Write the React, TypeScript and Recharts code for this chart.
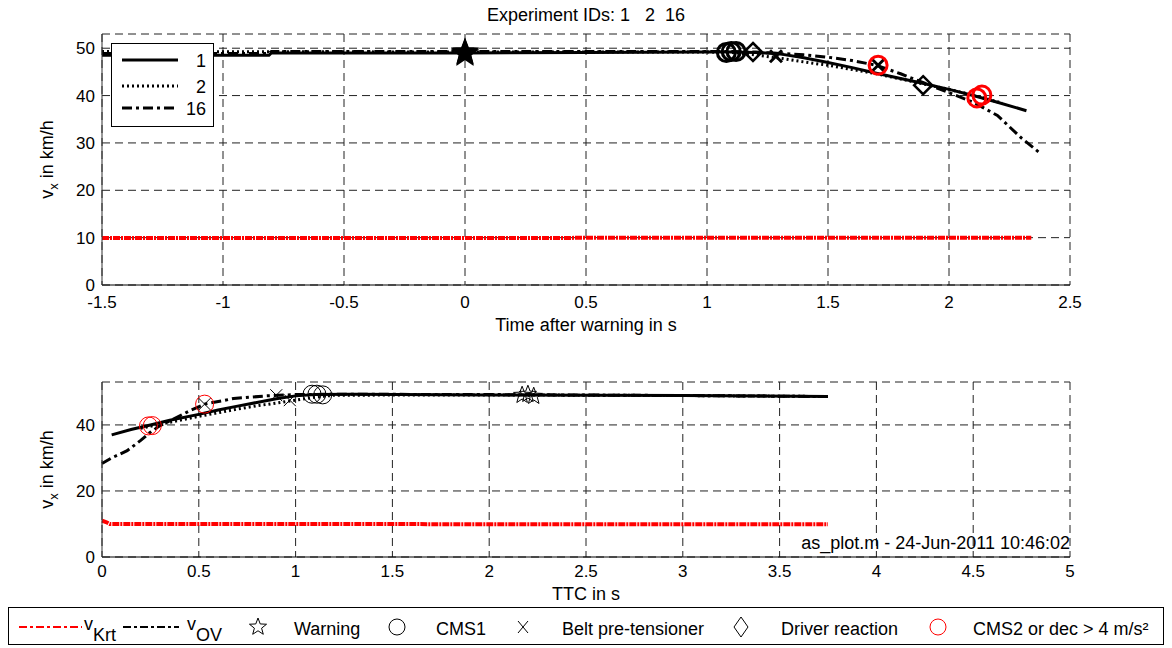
import React from "react";
import { CartesianGrid, ComposedChart, Line, Scatter, XAxis, YAxis } from "recharts";

// top panel: speed over time after warning
const topT1 = [-1.5, -0.81, -0.8, 0, 0.5, 1.0, 1.1, 1.2, 1.3, 1.4, 1.5, 1.6, 1.7, 1.8, 1.9, 2.0, 2.1, 2.2, 2.32];
const topV1 = [48.5, 48.5, 49.0, 49.0, 49.1, 49.2, 49.2, 49.1, 48.8, 48.0, 47.0, 45.9, 44.7, 43.6, 42.5, 41.3, 40.0, 38.6, 36.8];
const topT2 = [-1.5, 0, 0.5, 1.0, 1.1, 1.2, 1.3, 1.4, 1.5, 1.6, 1.7, 1.8, 1.9, 2.0, 2.1, 2.22];
const topV2 = [49.3, 49.2, 49.2, 49.2, 49.1, 48.6, 47.9, 47.1, 46.4, 45.5, 44.6, 43.5, 42.4, 41.3, 40.1, 38.4];
const topT16 = [-1.5, -0.81, -0.8, 0, 0.5, 1.0, 1.1, 1.2, 1.3, 1.4, 1.5, 1.6, 1.7, 1.8, 1.9, 2.0, 2.1, 2.2, 2.3, 2.37];
const topV16 = [48.9, 48.9, 49.3, 49.3, 49.3, 49.3, 49.3, 49.2, 48.9, 48.6, 48.1, 47.4, 46.4, 44.6, 42.6, 40.6, 38.6, 35.8, 31.0, 28.1];
const topKrtT = [-1.5, 2.34];
const topKrtV = [9.9, 10.0];

const topWarnT = [0, 0, 0];
const topWarnV = [49.0, 49.2, 48.8];
const topCms1T = [1.08, 1.1, 1.12];
const topCms1V = [49.1, 49.3, 49.3];
const topBeltT = [1.285, 1.707];
const topBeltV = [48.3, 46.4];
const topDrvT = [1.19, 1.893];
const topDrvV = [49.2, 42.2];
const topCms2T = [1.707, 2.115, 2.136];
const topCms2V = [46.4, 39.5, 40.1];

// bottom panel: speed over TTC
const botT1 = [0.05, 0.15, 0.25, 0.35, 0.5, 0.6, 0.7, 0.8, 0.9, 1.0, 1.1, 1.3, 2.0, 3.0, 3.75];
const botV1 = [37.0, 38.6, 40.0, 41.4, 43.2, 44.5, 45.7, 46.8, 47.9, 48.8, 49.2, 49.3, 49.1, 48.9, 48.6];
const botT2 = [0.2, 0.3, 0.4, 0.5, 0.6, 0.7, 0.8, 0.9, 1.0, 1.1, 1.2, 2.0, 3.0, 3.75];
const botV2 = [39.0, 40.2, 41.4, 42.6, 43.7, 44.8, 45.8, 46.6, 47.5, 48.4, 49.0, 49.1, 48.9, 48.6];
const botT16 = [0, 0.05, 0.13, 0.2, 0.25, 0.3, 0.36, 0.45, 0.53, 0.68, 0.85, 1.0, 1.2, 2.0, 3.0, 3.75];
const botV16 = [28.3, 30.0, 32.2, 35.3, 37.8, 39.8, 41.5, 44.2, 46.3, 48.0, 48.8, 49.2, 49.3, 49.2, 48.9, 48.6];
const botKrtT = [0, 0.02, 0.04, 3.75];
const botKrtV = [11.0, 10.6, 10.0, 9.9];

const botWarnT = [2.17, 2.2, 2.23];
const botWarnV = [49.0, 49.3, 48.7];
const botCms1T = [1.085, 1.11, 1.14];
const botCms1V = [49.3, 49.3, 49.1];
const botBeltT = [0.53, 0.9, 0.97];
const botBeltV = [46.3, 49.0, 47.5];
const botCms2T = [0.24, 0.26, 0.53];
const botCms2V = [39.7, 39.8, 46.3];

const topXTicks = [-1.5, -1, -0.5, 0, 0.5, 1, 1.5, 2, 2.5];
const topYTicks = [0, 10, 20, 30, 40, 50];
const botXTicks = [0, 0.5, 1, 1.5, 2, 2.5, 3, 3.5, 4, 4.5, 5];
const botYTicks = [0, 20, 40];

const FONT = '"Liberation Sans", Arial, sans-serif';
const FS = 18;
const TICK_FS = 17;
const DOT = "2 3";
const DASHDOT = "10 4 3 4";
const RED = "#ff0000";

const zip = (xs: number[], ys: number[]) => xs.map((x, i) => ({ x, y: ys[i] }));

function starPoints(cx: number, cy: number, r: number) {
  const pts: string[] = [];
  for (let i = 0; i < 10; i++) {
    const rad = i % 2 === 0 ? r : r * 0.42;
    const a = -Math.PI / 2 + (i * Math.PI) / 5;
    pts.push(`${cx + rad * Math.cos(a)},${cy + rad * Math.sin(a)}`);
  }
  return pts.join(" ");
}

const star = (r: number, fill: string, sw: number) => (p: any) =>
  <polygon points={starPoints(p.cx, p.cy, r)} fill={fill} stroke="#000" strokeWidth={sw} />;
const ring = (r: number, color: string, sw: number) => (p: any) =>
  <circle cx={p.cx} cy={p.cy} r={r} fill="none" stroke={color} strokeWidth={sw} />;
const cross = (s: number, sw: number) => (p: any) => (
  <path d={`M${p.cx - s},${p.cy - s}L${p.cx + s},${p.cy + s}M${p.cx - s},${p.cy + s}L${p.cx + s},${p.cy - s}`} stroke="#000" strokeWidth={sw} />
);
const diamond = (s: number, sw: number) => (p: any) => (
  <path d={`M${p.cx},${p.cy - s}L${p.cx + s},${p.cy}L${p.cx},${p.cy + s}L${p.cx - s},${p.cy}Z`} fill="none" stroke="#000" strokeWidth={sw} />
);

const VxLabel = (props: any) => {
  const vb = props.viewBox;
  const cy = vb.y + vb.height / 2;
  return (
    <text transform={`translate(53,${cy}) rotate(-90)`} textAnchor="middle" fontSize={FS} fontFamily={FONT} fill="#000">
      v<tspan fontSize={13} dy={5}>x</tspan><tspan dy={-5}> in km/h</tspan>
    </text>
  );
};

const xLabel = (text: string, dy: number) => (props: any) => {
  const vb = props.viewBox;
  return (
    <text x={vb.x + vb.width / 2} y={vb.y + dy} textAnchor="middle" fontSize={FS} fontFamily={FONT} fill="#000">
      {text}
    </text>
  );
};

const tickStyle = { fontSize: TICK_FS, fill: "#000", fontFamily: FONT };

function TopChart() {
  return (
    <ComposedChart width={1172} height={340} margin={{ top: 34, right: 102, bottom: 25, left: 52 }}>
      <CartesianGrid stroke="#222" strokeDasharray="8 5" />
      <XAxis type="number" dataKey="x" domain={[-1.5, 2.5]} ticks={topXTicks} height={30} tickLine={false} tickSize={0} tickMargin={11}
        tick={tickStyle} stroke="#000" label={{ content: xLabel("Time after warning in s", 46) }} />
      <YAxis type="number" dataKey="y" domain={[0, 53]} ticks={topYTicks} width={50} tickLine={false} tickSize={0} tickMargin={7}
        tick={tickStyle} stroke="#333" label={{ content: VxLabel }} />
      <Line data={zip(topKrtT, topKrtV)} dataKey="y" stroke={RED} strokeWidth={4} strokeDasharray="7 1 2 1" dot={false} activeDot={false} isAnimationActive={false} />
      <Line data={zip(topT16, topV16)} dataKey="y" stroke="#000" strokeWidth={3} strokeDasharray={DASHDOT} dot={false} activeDot={false} isAnimationActive={false} />
      <Line data={zip(topT2, topV2)} dataKey="y" stroke="#000" strokeWidth={3} strokeDasharray={DOT} dot={false} activeDot={false} isAnimationActive={false} />
      <Line data={zip(topT1, topV1)} dataKey="y" stroke="#000" strokeWidth={3} dot={false} activeDot={false} isAnimationActive={false} />
      <Scatter data={zip(topWarnT, topWarnV)} dataKey="y" shape={star(12, "#000", 2)} isAnimationActive={false} />
      <Scatter data={zip(topCms1T, topCms1V)} dataKey="y" shape={ring(9, "#000", 3)} isAnimationActive={false} />
      <Scatter data={zip(topDrvT, topDrvV)} dataKey="y" shape={diamond(9, 2.5)} isAnimationActive={false} />
      <Scatter data={zip(topBeltT, topBeltV)} dataKey="y" shape={cross(6, 3)} isAnimationActive={false} />
      <Scatter data={zip(topCms2T, topCms2V)} dataKey="y" shape={ring(9, RED, 3)} isAnimationActive={false} />
    </ComposedChart>
  );
}

function BottomChart() {
  return (
    <ComposedChart width={1172} height={270} margin={{ top: 42, right: 102, bottom: 23, left: 52 }}>
      <CartesianGrid stroke="#222" strokeDasharray="8 5" />
      <XAxis type="number" dataKey="x" domain={[0, 5]} ticks={botXTicks} height={30} tickLine={false} tickSize={0} tickMargin={8}
        tick={tickStyle} stroke="#000" label={{ content: xLabel("TTC in s", 43) }} />
      <YAxis type="number" dataKey="y" domain={[0, 53]} ticks={botYTicks} width={50} tickLine={false} tickSize={0} tickMargin={7}
        tick={tickStyle} stroke="#333" label={{ content: VxLabel }} />
      <Line data={zip(botKrtT, botKrtV)} dataKey="y" stroke={RED} strokeWidth={4} strokeDasharray="7 1 2 1" dot={false} activeDot={false} isAnimationActive={false} />
      <Line data={zip(botT16, botV16)} dataKey="y" stroke="#000" strokeWidth={3} strokeDasharray={DASHDOT} dot={false} activeDot={false} isAnimationActive={false} />
      <Line data={zip(botT2, botV2)} dataKey="y" stroke="#000" strokeWidth={3} strokeDasharray={DOT} dot={false} activeDot={false} isAnimationActive={false} />
      <Line data={zip(botT1, botV1)} dataKey="y" stroke="#000" strokeWidth={3} dot={false} activeDot={false} isAnimationActive={false} />
      <Scatter data={zip(botWarnT, botWarnV)} dataKey="y" shape={star(9, "none", 1)} isAnimationActive={false} />
      <Scatter data={zip(botCms1T, botCms1V)} dataKey="y" shape={ring(9, "#000", 1)} isAnimationActive={false} />
      <Scatter data={zip(botBeltT, botBeltV)} dataKey="y" shape={cross(6, 1)} isAnimationActive={false} />
      <Scatter data={zip(botCms2T, botCms2V)} dataKey="y" shape={ring(9, RED, 1)} isAnimationActive={false} />
    </ComposedChart>
  );
}

function InnerLegend() {
  const rows = [
    { label: "1", dash: undefined as string | undefined, y: 60 },
    { label: "2", dash: DOT, y: 86 },
    { label: "16", dash: DASHDOT, y: 108 },
  ];
  return (
    <svg width={1172} height={140} style={{ position: "absolute", left: 0, top: 0 }}>
      <rect x={111.5} y={43.5} width={102} height={83} fill="#fff" stroke="#000" strokeWidth={1} />
      {rows.map((r) => (
        <g key={r.label}>
          <line x1={122} x2={178} y1={r.y} y2={r.y} stroke="#000" strokeWidth={3} strokeDasharray={r.dash} />
          <text x={206} y={r.y + 7} textAnchor="end" fontSize={FS} fontFamily={FONT}>{r.label}</text>
        </g>
      ))}
    </svg>
  );
}

function BottomLegend() {
  const ty = 635;
  const my = 627;
  return (
    <svg width={1172} height={648} style={{ position: "absolute", left: 0, top: 0 }}>
      <rect x={8.5} y={607.5} width={1155} height={37} fill="#fff" stroke="#000" strokeWidth={1} />
      <line x1={19} x2={82} y1={my} y2={my} stroke={RED} strokeWidth={2} strokeDasharray="8 3 3 3" />
      <text x={84} y={ty - 5} fontSize={FS} fontFamily={FONT}>v<tspan fontSize={FS} dy={11}>Krt</tspan></text>
      <line x1={123} x2={179} y1={my} y2={my} stroke="#000" strokeWidth={2} strokeDasharray="8 3 3 3" />
      <text x={187} y={ty - 5} fontSize={FS} fontFamily={FONT}>v<tspan fontSize={FS} dy={11}>OV</tspan></text>
      <polygon points={starPoints(258, my, 9)} fill="none" stroke="#000" strokeWidth={1} />
      <text x={294} y={ty} fontSize={FS} fontFamily={FONT}>Warning</text>
      <circle cx={397} cy={my} r={8} fill="none" stroke="#000" strokeWidth={1} />
      <text x={436} y={ty} fontSize={FS} fontFamily={FONT}>CMS1</text>
      <path d={`M518,${my - 6}L528,${my + 6}M518,${my + 6}L528,${my - 6}`} stroke="#000" strokeWidth={1} />
      <text x={562} y={ty} fontSize={FS} fontFamily={FONT}>Belt pre-tensioner</text>
      <path d={`M741,${my - 10}L748,${my}L741,${my + 10}L734,${my}Z`} fill="none" stroke="#000" strokeWidth={1} />
      <text x={781} y={ty} fontSize={FS} fontFamily={FONT}>Driver reaction</text>
      <circle cx={938} cy={my} r={8} fill="none" stroke={RED} strokeWidth={1} />
      <text x={973} y={ty} fontSize={FS} fontFamily={FONT}>CMS2 or dec &gt; 4 m/s²</text>
    </svg>
  );
}

export default function App() {
  return (
    <div style={{ position: "absolute", left: 0, top: 0, width: 1172, height: 648, background: "#fff", fontFamily: FONT, overflow: "hidden" }}>
      <div style={{ position: "absolute", left: 0, top: 0 }}>
        <TopChart />
      </div>
      <div style={{ position: "absolute", left: 0, top: 340 }}>
        <BottomChart />
      </div>
      <InnerLegend />
      <div style={{ position: "absolute", left: 0, width: 1172, top: 5, textAlign: "center", fontSize: FS, whiteSpace: "pre" }}>
        {"Experiment IDs: 1   2  16"}
      </div>
      <div style={{ position: "absolute", right: 102, top: 533, fontSize: FS, whiteSpace: "pre" }}>
        as_plot.m - 24-Jun-2011 10:46:02
      </div>
      <BottomLegend />
    </div>
  );
}
